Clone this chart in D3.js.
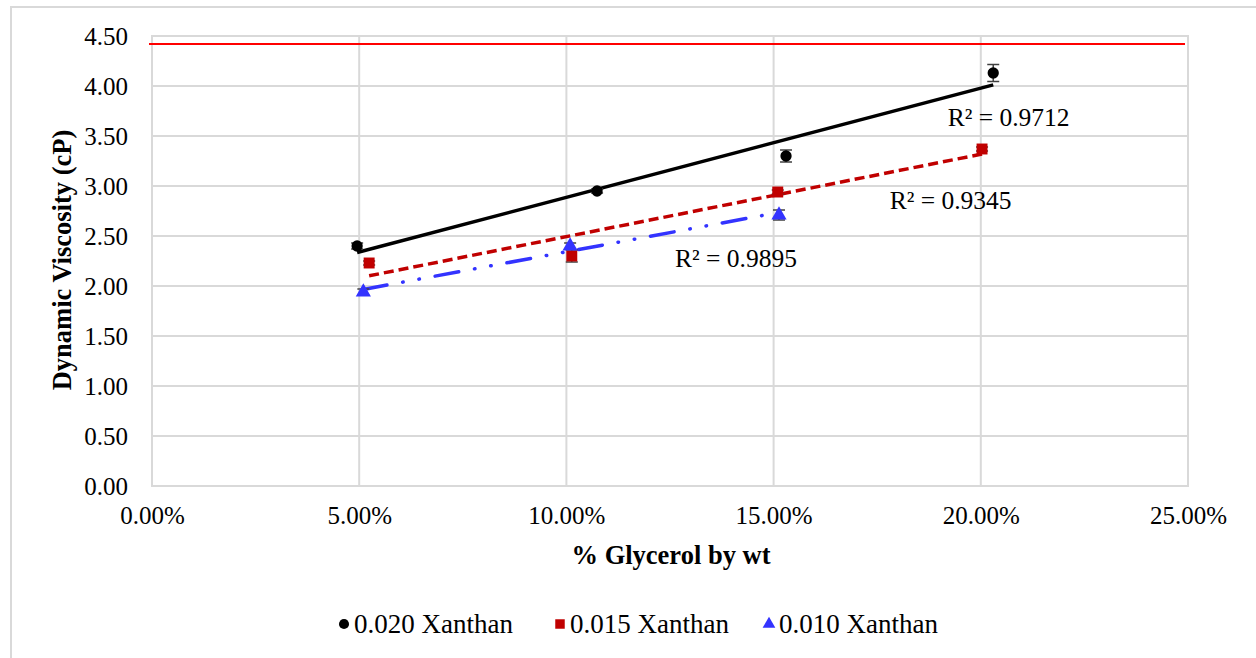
<!DOCTYPE html>
<html><head><meta charset="utf-8">
<script src="https://cdn.jsdelivr.net/npm/d3@7"></script>
<style>body{margin:0;background:#fff}svg{display:block}text{font-family:"Liberation Serif","Times New Roman",serif;fill:#000}</style>
</head><body><svg id="c" width="1256" height="658"></svg>
<script>
const seriesNames = ["0.020 Xanthan", "0.015 Xanthan", "0.010 Xanthan"];
const x020 = [4.95, 10.74, 15.30, 20.30];
const y020 = [2.40, 2.95, 3.30, 4.13];
const e020 = [0.03, 0.02, 0.06, 0.085];
const x015 = [5.24, 10.13, 15.10, 20.03];
const y015 = [2.23, 2.30, 2.94, 3.37];
const e015 = [0.02, 0.06, 0.02, 0.02];
const x010 = [5.10, 10.09, 15.13];
const y010 = [1.94, 2.40, 2.71];
const e010 = [0.03, 0.03, 0.05];
const r2Labels = ["R² = 0.9712", "R² = 0.9345", "R² = 0.9895"];
const r2Pos = [[19.2, 3.60], [17.8, 2.77], [12.62, 2.19]];
const limitValue = 4.42;
const xTicks = [0, 5, 10, 15, 20, 25];
const yTicks = [0, 0.5, 1, 1.5, 2, 2.5, 3, 3.5, 4, 4.5];
const colors = ["#000000", "#c00000", "#3333ff"];

const svg = d3.select("#c");
const L = 152, R = 1188, T = 36, B = 486;
const x = d3.scaleLinear().domain([0, 25]).range([L, R]);
const y = d3.scaleLinear().domain([0, 4.5]).range([B, T]);

svg.append("rect").attr("x", 11).attr("y", 7).attr("width", 1265).attr("height", 670)
  .attr("fill", "#fff").attr("stroke", "#d9d9d9").attr("stroke-width", 2);

// gridlines
const grid = svg.append("g").attr("stroke", "#d9d9d9").attr("stroke-width", 2);
grid.selectAll(".gy").data(yTicks).join("line")
  .attr("x1", L).attr("x2", R).attr("y1", d => y(d)).attr("y2", d => y(d));
grid.selectAll(".gx").data(xTicks).join("line")
  .attr("y1", T).attr("y2", B).attr("x1", d => x(d)).attr("x2", d => x(d));
svg.append("rect").attr("x", L).attr("y", T).attr("width", R - L).attr("height", B - T)
  .attr("fill", "none").attr("stroke", "#d9d9d9").attr("stroke-width", 2);

// axes
const yAxis = d3.axisLeft(y).tickValues(yTicks).tickFormat(d3.format(".2f")).tickSize(0).tickPadding(24);
svg.append("g").attr("transform", `translate(${L},0)`).call(yAxis)
  .call(g => g.select(".domain").remove())
  .selectAll("text").style("font-size", "25px").style("font-family", "Liberation Serif").attr("fill", "#000");
const xAxis = d3.axisBottom(x).tickValues(xTicks).tickFormat(d => d3.format(".2f")(d) + "%").tickSize(0).tickPadding(20);
svg.append("g").attr("transform", `translate(0,${B})`).call(xAxis)
  .call(g => g.select(".domain").remove())
  .selectAll("text").style("font-size", "25px").style("font-family", "Liberation Serif").attr("fill", "#000");

// titles
svg.append("text").attr("x", (L + R) / 2 + 1).attr("y", 564).attr("text-anchor", "middle")
  .style("font-size", "26.5px").style("font-weight", "bold").text("% Glycerol by wt");
svg.append("text").attr("transform", `translate(71,${(T + B) / 2 - 1}) rotate(-90)`).attr("text-anchor", "middle")
  .style("font-size", "26.5px").style("font-weight", "bold").text("Dynamic Viscosity (cP)");

// limit line
svg.append("line").attr("x1", x(0) - 3).attr("x2", x(25) - 3).attr("y1", y(limitValue)).attr("y2", y(limitValue))
  .attr("stroke", "#ff0000").attr("stroke-width", 2);

// trendlines
function fit(xs, ys) {
  const mx = d3.mean(xs), my = d3.mean(ys);
  const sxy = d3.sum(xs, (v, i) => (v - mx) * (ys[i] - my));
  const sxx = d3.sum(xs, v => (v - mx) ** 2);
  const b = sxy / sxx, a = my - b * mx;
  return [[d3.min(xs), a + b * d3.min(xs)], [d3.max(xs), a + b * d3.max(xs)]];
}
const series = [[x020, y020, e020], [x015, y015, e015], [x010, y010, e010]];
const dashes = [null, "10 5", "24 16 0.5 16 0.5 16"];
const caps = ["butt", "butt", "round"];
const line = d3.line().x(d => x(d[0])).y(d => y(d[1]));
series.forEach((s, i) => {
  svg.append("path").attr("d", line(fit(s[0], s[1]))).attr("fill", "none")
    .attr("stroke", colors[i]).attr("stroke-width", 3.5)
    .attr("stroke-dasharray", dashes[i]).attr("stroke-linecap", caps[i]);
});

// error bars and markers
const sym = [d3.symbolCircle, d3.symbolSquare, d3.symbolTriangle];
const symSize = [100, 120, 100];
series.forEach((s, i) => {
  const pts = s[0].map((v, k) => ({ x: v, y: s[1][k], e: s[2][k] }));
  const g = svg.append("g");
  const eb = g.selectAll(".eb").data(pts).join("g").attr("stroke", "#404040").attr("stroke-width", 1.5);
  eb.append("line").attr("x1", d => x(d.x)).attr("x2", d => x(d.x)).attr("y1", d => y(d.y - d.e)).attr("y2", d => y(d.y + d.e));
  eb.append("line").attr("x1", d => x(d.x) - 6).attr("x2", d => x(d.x) + 6).attr("y1", d => y(d.y - d.e)).attr("y2", d => y(d.y - d.e));
  eb.append("line").attr("x1", d => x(d.x) - 6).attr("x2", d => x(d.x) + 6).attr("y1", d => y(d.y + d.e)).attr("y2", d => y(d.y + d.e));
  g.selectAll("path.m").data(pts).join("path").attr("class", "m")
    .attr("transform", d => `translate(${x(d.x)},${y(d.y)})`)
    .attr("d", d3.symbol(sym[i], symSize[i])).attr("fill", colors[i]);
});

// R² labels
r2Labels.forEach((t, i) => {
  svg.append("text").attr("x", x(r2Pos[i][0])).attr("y", y(r2Pos[i][1])).style("font-size", "25.5px").text(t);
});

// legend
const legX = [344, 560, 769];
seriesNames.forEach((n, i) => {
  svg.append("path").attr("transform", `translate(${legX[i]},624)`)
    .attr("d", d3.symbol(sym[i], [80, 90, 70][i])).attr("fill", colors[i]);
  svg.append("text").attr("x", legX[i] + 10).attr("y", 633).style("font-size", "27px").text(n);
});
</script></body></html>
